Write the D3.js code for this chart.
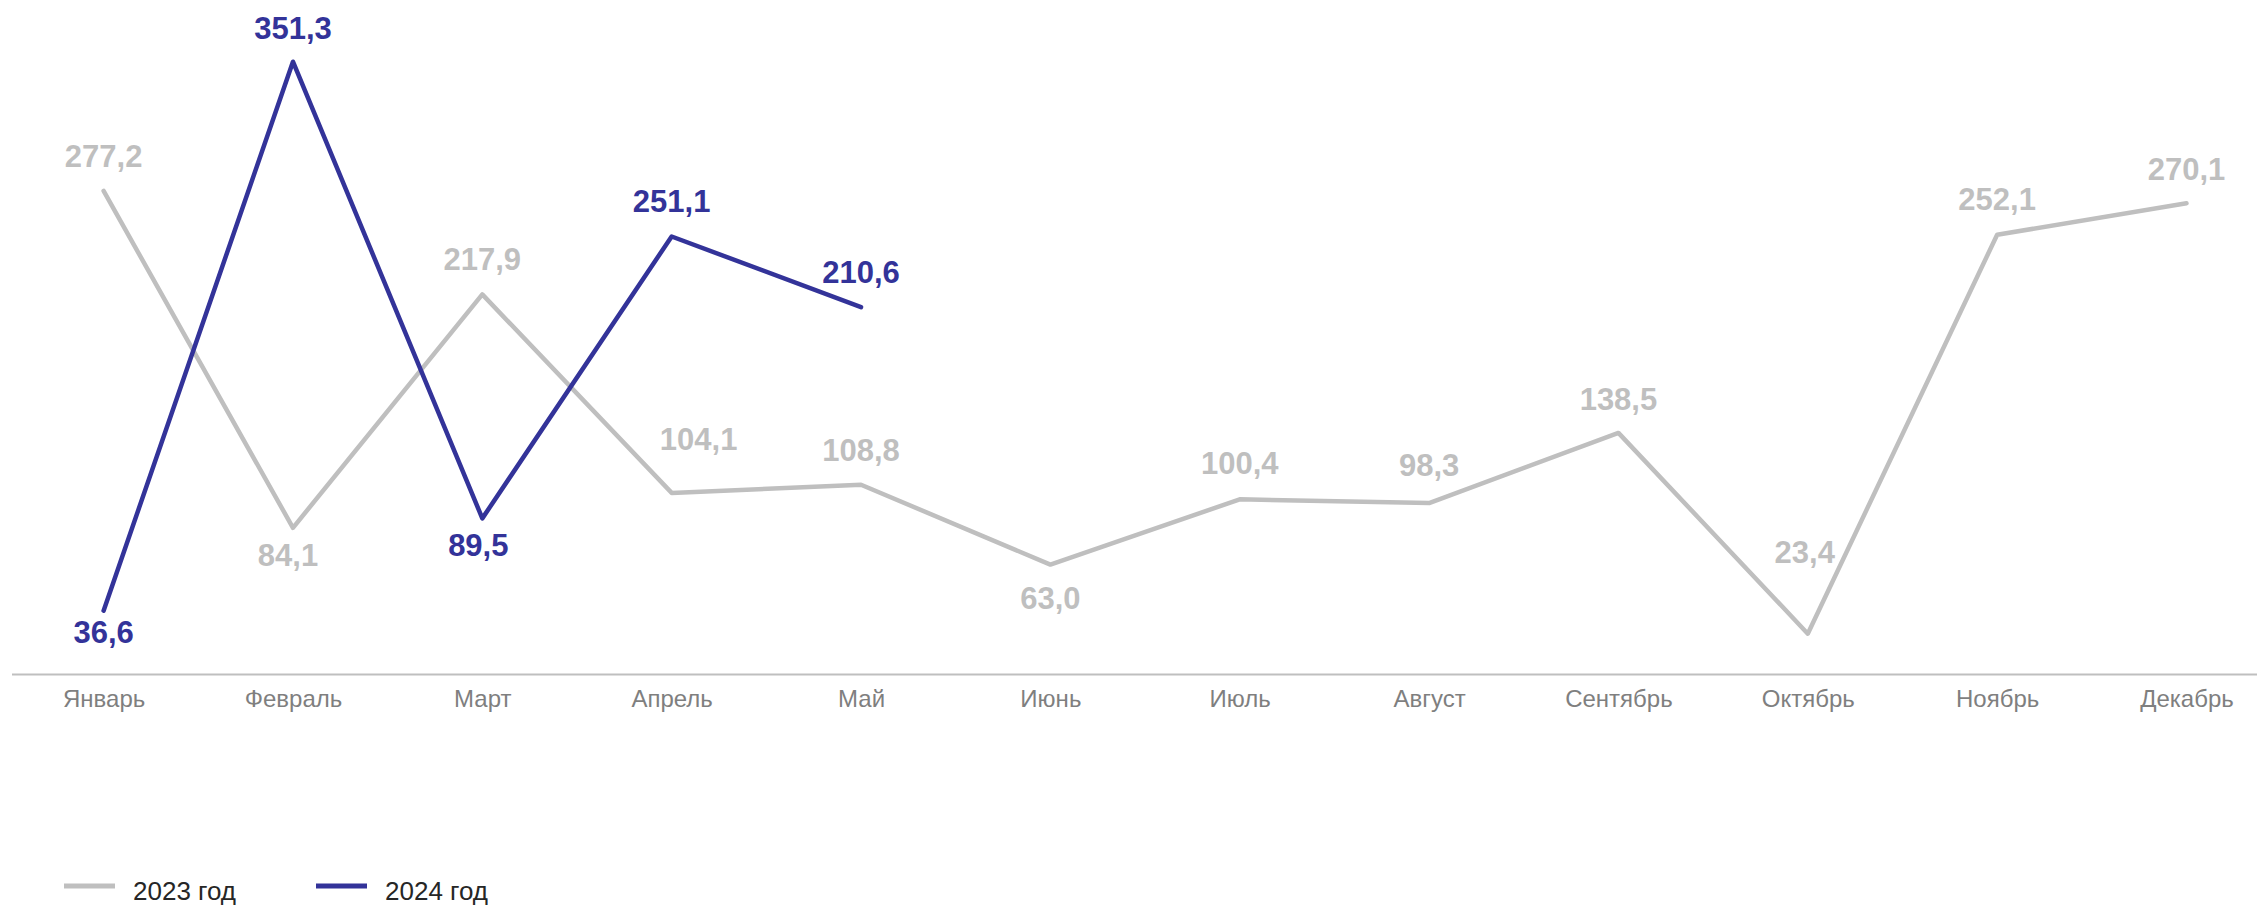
<!DOCTYPE html>
<html>
<head>
<meta charset="utf-8">
<script src="https://cdn.jsdelivr.net/npm/d3@7"></script>
<style>
  body { margin: 0; background: #fff; }
  svg { display: block; font-family: "Liberation Sans", Arial, sans-serif; }
</style>
</head>
<body>
<script>
// data
var months = ["Январь", "Февраль", "Март", "Апрель", "Май", "Июнь", "Июль", "Август", "Сентябрь", "Октябрь", "Ноябрь", "Декабрь"];
var values2023 = [277.2, 84.1, 217.9, 104.1, 108.8, 63.0, 100.4, 98.3, 138.5, 23.4, 252.1, 270.1];
var values2024 = [36.6, 351.3, 89.5, 251.1, 210.6];
var seriesNames = ["2023 год", "2024 год"];

// label nudges [dx, dy of baseline from point]
var labelPos2023 = [[0, -24], [-5, 38], [0, -24], [27, -43], [0, -24], [0, 44], [0, -25], [0, -27], [0, -23], [-3, -71], [0, -25], [0, -23]];
var labelPos2024 = [[0, 32], [0, -23], [-4, 38], [0, -24], [0, -24]];

var width = 2257;
var height = 907;

var grayColor = "#bfbfbf";
var blueColor = "#333399";
var lineWidth = 4.5;

var svg = d3.select("body").append("svg")
    .attr("width", width)
    .attr("height", height);

var x = d3.scalePoint()
    .domain(months)
    .range([103.6, 2186.5]);

var y = d3.scaleLinear()
    .domain([0, 351.3])
    .range([674.5, 61.7]);

// x axis (month labels only)
var xAxis = svg.append("g")
    .attr("transform", "translate(0," + y(0) + ")")
    .call(d3.axisBottom(x).tickSize(0).tickPadding(15.5));
xAxis.select(".domain").remove();
xAxis.selectAll("text")
    .attr("font-size", 24)
    .attr("font-family", "Liberation Sans, Arial, sans-serif")
    .attr("fill", "#7f7f7f");

svg.append("line")
    .attr("x1", 12).attr("x2", width)
    .attr("y1", y(0)).attr("y2", y(0))
    .attr("stroke", "#bfbfbf")
    .attr("stroke-width", 2);

var line = d3.line()
    .x(function(d, i) { return x(months[i]); })
    .y(function(d) { return y(d); });

function drawSeries(values, color, pos) {
    svg.append("path")
        .datum(values)
        .attr("fill", "none")
        .attr("stroke", color)
        .attr("stroke-width", lineWidth)
        .attr("stroke-linejoin", "round")
        .attr("stroke-linecap", "round")
        .attr("d", line);

    svg.append("g").selectAll("text")
        .data(values)
        .enter().append("text")
        .attr("x", function(d, i) { return x(months[i]) + pos[i][0]; })
        .attr("y", function(d, i) { return y(d) + pos[i][1]; })
        .attr("text-anchor", "middle")
        .attr("font-size", 31)
        .attr("font-weight", "bold")
        .attr("fill", color)
        .text(function(d) { return d.toFixed(1).replace(".", ","); });
}

drawSeries(values2023, grayColor, labelPos2023);
drawSeries(values2024, blueColor, labelPos2024);

// legend
var legend = svg.append("g");
var legendColors = [grayColor, blueColor];
var legendX = [64, 316];
seriesNames.forEach(function(name, i) {
    legend.append("line")
        .attr("x1", legendX[i]).attr("x2", legendX[i] + 51)
        .attr("y1", 886).attr("y2", 886)
        .attr("stroke", legendColors[i])
        .attr("stroke-width", 5);
    legend.append("text")
        .attr("x", legendX[i] + 69)
        .attr("y", 900)
        .attr("font-size", 26)
        .attr("fill", "#262626")
        .text(name);
});
</script>
</body>
</html>
